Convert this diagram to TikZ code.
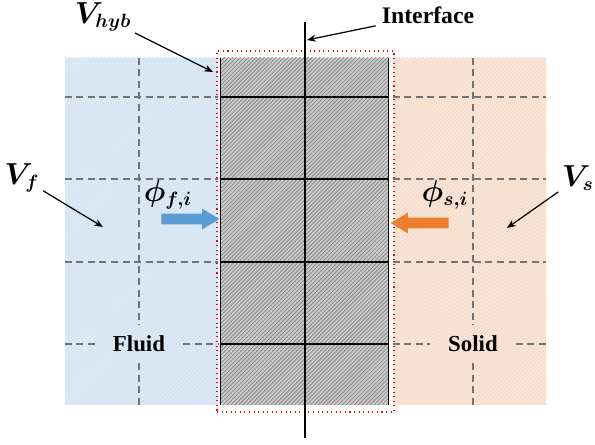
\documentclass[tikz,border=0pt]{standalone}
\usepackage{fontspec}
\setmainfont{Liberation Serif}
\usepackage{bm}
\usepackage{xcolor}
\usepackage{tikz}
\usetikzlibrary{arrows.meta,positioning,fit,patterns.meta,shapes.arrows}
\definecolor{fluidbg}{RGB}{222,235,247}
\definecolor{fluidhatch}{RGB}{208,224,240}
\definecolor{solidbg}{RGB}{251,230,215}
\definecolor{solidhatch}{RGB}{242,216,198}
\definecolor{hybbg}{RGB}{205,205,205}
\definecolor{hybhatch}{RGB}{130,130,130}
\definecolor{fluxblue}{RGB}{91,155,213}
\definecolor{fluxorange}{RGB}{237,125,49}

\begin{document}
\begin{tikzpicture}[x=0.02cm,y=-0.02cm,>=Stealth,
  font=\fontsize{13}{15}\selectfont\bfseries,
  region/.style={inner sep=0pt,preaction={fill=#1bg},pattern={Lines[angle=45,distance=1.6pt,line width=0.45pt]},pattern color=#1hatch},
  grid/.style={black!55,line width=0.8pt,dash pattern=on 4pt off 2.6pt},
  cell/.style={black,line width=0.9pt},
  flux/.style={single arrow,draw=none,inner xsep=0pt,inner ysep=0.1cm,minimum height=1.16cm,single arrow head extend=0.1cm,single arrow tip angle=62},
  lbl/.style={inner xsep=10pt,inner ysep=6pt},
  tag/.style={font=\fontsize{16}{18}\selectfont,inner sep=2pt},
  pointer/.style={->,line width=0.7pt,>={Stealth[length=5pt,width=4pt]}}]
  \useasboundingbox (0,0) rectangle (595,445);
  % the three control volumes
  \node[region=fluid,fit={(65,58) (218,405)}] (fluid) {};
  \node[region=solid,fit={(393,58) (546,405)}] (solid) {};
  \node[region=hyb,fit={(221,58) (388,405)}] (hyb) {};
  \node[draw=red,dotted,line width=0.6pt,inner sep=0pt,fit={(217,51) (394,412)}] (hybbox) {};
  % cells of the hybrid zone
  \draw[cell] (hyb.north west) -- (hyb.south west);
  \draw[cell] (hyb.north east) -- (hyb.south east);
  \foreach \y in {97,179,262,344}
    \draw[cell] (hyb.west |- 0,\y) -- (hyb.east |- 0,\y);
  % grid of fluid and solid
  \node[lbl] (flab) at (139,344) {Fluid};
  \node[lbl] (slab) at (473,344) {Solid};
  \foreach \y in {97,179,262}{
    \draw[grid] (fluid.west |- 0,\y) -- (fluid.east |- 0,\y);
    \draw[grid] (solid.west |- 0,\y) -- (solid.east |- 0,\y);
  }
  \draw[grid] (fluid.west |- flab) -- (flab.west);
  \draw[grid] (flab.east) -- (fluid.east |- flab);
  \draw[grid] (flab.north |- fluid.north) -- (flab.north);
  \draw[grid] (flab.south) -- (flab.south |- fluid.south);
  \draw[grid] (solid.west |- slab) -- (slab.west);
  \draw[grid] (slab.east) -- (solid.east |- slab);
  \draw[grid] (slab.north |- solid.north) -- (slab.north);
  \draw[grid] (slab.south) -- (slab.south |- solid.south);
  % interface
  \coordinate (itop) at (305,22);
  \coordinate (ibot) at (305,438);
  \draw[line width=1.7pt] (itop) -- (ibot);
  % fluxes
  \node[flux,fill=fluxblue] (fluxf) at (186,219) {};
  \node[flux,fill=fluxorange,shape border rotate=180] (fluxs) at (424,223) {};
  \node[tag] (phif) at (168,195) {$\bm{\phi_{f,i}}$};
  \node[tag] (phis) at (445,195) {$\bm{\phi_{s,i}}$};
  % labels and pointers
  \node[tag] (vhyb) at (103,17) {$\bm{V_{hyb}}$};
  \node[font=\fontsize{13.5}{15}\selectfont\bfseries] (iface) at (428,15) {Interface};
  \node[tag] (vf) at (22,178) {$\bm{V_{f}}$};
  \node[tag] (vs) at (578,178) {$\bm{V_{s}}$};
  \coordinate (vhybtip) at (213,72);
  \coordinate (ifacetip) at (307,40);
  \coordinate (vftip) at (103,227);
  \coordinate (vstip) at (507,228);
  \draw[pointer] (vhyb) -- (vhybtip);
  \draw[pointer] (iface) -- (ifacetip);
  \draw[pointer] (vf) -- (vftip);
  \draw[pointer] (vs) -- (vstip);
\end{tikzpicture}
\end{document}
